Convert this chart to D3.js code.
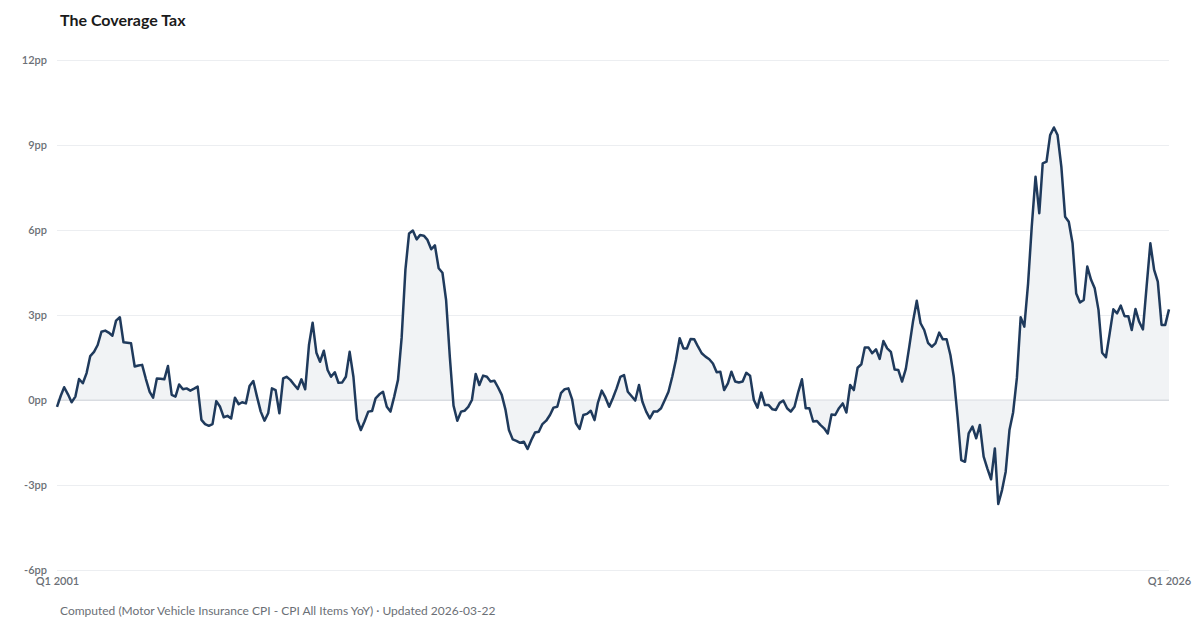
<!DOCTYPE html>
<html>
<head>
<meta charset="utf-8">
<script src="https://cdn.jsdelivr.net/npm/d3@7"></script>
<style>
  body { margin: 0; background: #fff; font-family: Lato, "Open Sans", sans-serif; }
  .tick text { fill: #6b6f76; font-weight: 600; }
</style>
</head>
<body>
<div id="chart"></div>
<script>
// monthly spread, percentage points (insurance CPI YoY minus headline CPI YoY), Jan 2001 on
const y2001 = [-0.24, 0.15, 0.45, 0.2, -0.08, 0.12, 0.74, 0.59, 0.95, 1.55, 1.7, 1.94];
const y2002 = [2.41, 2.45, 2.38, 2.27, 2.8, 2.92, 2.04, 2.02, 2.0, 1.18, 1.22, 1.24];
const y2003 = [0.74, 0.29, 0.08, 0.76, 0.75, 0.73, 1.2, 0.18, 0.12, 0.55, 0.38, 0.41];
const y2004 = [0.33, 0.4, 0.47, -0.7, -0.85, -0.91, -0.85, -0.04, -0.24, -0.61, -0.56, -0.65];
const y2005 = [0.08, -0.15, -0.08, -0.12, 0.49, 0.67, 0.12, -0.41, -0.73, -0.47, 0.41, 0.35];
const y2006 = [-0.47, 0.76, 0.82, 0.71, 0.55, 0.39, 0.73, 0.38, 1.94, 2.73, 1.67, 1.35];
const y2007 = [1.74, 1.06, 0.82, 0.98, 0.61, 0.62, 0.82, 1.7, 0.82, -0.68, -1.06, -0.76];
const y2008 = [-0.41, -0.39, 0.06, 0.2, 0.29, -0.24, -0.41, 0.12, 0.71, 2.2, 4.6, 5.88];
const y2009 = [5.98, 5.67, 5.82, 5.8, 5.65, 5.32, 5.46, 4.65, 4.49, 3.53, 1.5, -0.2];
const y2010 = [-0.73, -0.41, -0.38, -0.24, 0.0, 0.92, 0.53, 0.86, 0.82, 0.65, 0.68, 0.45];
const y2011 = [0.18, -0.35, -1.06, -1.39, -1.44, -1.51, -1.47, -1.73, -1.41, -1.15, -1.12, -0.85];
const y2012 = [-0.73, -0.53, -0.27, -0.24, 0.24, 0.38, 0.41, 0.02, -0.82, -1.02, -0.53, -0.49];
const y2013 = [-0.38, -0.71, -0.09, 0.33, 0.09, -0.24, 0.06, 0.41, 0.82, 0.88, 0.29, 0.14];
const y2014 = [-0.02, 0.53, -0.06, -0.41, -0.65, -0.41, -0.41, -0.29, 0.0, 0.29, 0.82, 1.41];
const y2015 = [2.18, 1.82, 1.82, 2.15, 2.14, 1.88, 1.65, 1.53, 1.44, 1.29, 0.98, 1.0];
const y2016 = [0.35, 0.59, 1.0, 0.65, 0.62, 0.65, 0.96, 0.86, 0.0, -0.27, 0.26, -0.18];
const y2017 = [-0.18, -0.33, -0.35, -0.1, -0.02, -0.29, -0.41, -0.24, 0.29, 0.73, -0.29, -0.29];
const y2018 = [-0.76, -0.74, -0.88, -1.0, -1.18, -0.51, -0.53, -0.29, -0.12, -0.44, 0.53, 0.35];
const y2019 = [1.14, 1.26, 1.85, 1.85, 1.65, 1.79, 1.45, 2.08, 1.82, 1.7, 1.08, 1.06];
const y2020 = [0.65, 1.1, 1.9, 2.8, 3.5, 2.71, 2.47, 2.02, 1.88, 2.0, 2.38, 2.14];
const y2021 = [2.14, 1.59, 0.82, -0.6, -2.12, -2.18, -1.18, -0.94, -1.35, -0.88, -2.0, -2.41];
const y2022 = [-2.8, -1.71, -3.67, -3.18, -2.53, -1.06, -0.44, 0.78, 2.92, 2.59, 4.12, 6.12];
const y2023 = [7.88, 6.59, 8.35, 8.41, 9.35, 9.62, 9.35, 8.24, 6.47, 6.29, 5.53, 3.76];
const y2024 = [3.44, 3.53, 4.71, 4.24, 3.94, 3.18, 1.67, 1.51, 2.35, 3.2, 3.06, 3.33];
const y2025 = [2.96, 2.96, 2.47, 3.21, 2.76, 2.49, 4.0, 5.53, 4.59, 4.18, 2.65, 2.65];
const y2026 = [3.2];

const yTicks = [-6, -3, 0, 3, 6, 9, 12];
const xTickLabels = ["Q1 2001", "Q1 2026"];
const xTickDates = [new Date(2001, 0, 1), new Date(2026, 0, 1)];

const title = "The Coverage Tax";
const footnote = "Computed (Motor Vehicle Insurance CPI - CPI All Items YoY) \u00b7 Updated 2026-03-22";

const spread = [].concat(y2001, y2002, y2003, y2004, y2005, y2006, y2007, y2008, y2009,
  y2010, y2011, y2012, y2013, y2014, y2015, y2016, y2017, y2018, y2019, y2020,
  y2021, y2022, y2023, y2024, y2025, y2026);
const data = spread.map((v, i) => ({ date: d3.timeMonth.offset(new Date(2001, 0, 1), i), value: v }));

const width = 1200, height = 630;
const margin = { LEFT: 57, RIGHT: 31, TOP: 60, BOTTOM: 60 };

const svg = d3.select("#chart").append("svg")
  .attr("width", width)
  .attr("height", height);

svg.append("text")
  .attr("x", 60)
  .attr("y", 26)
  .attr("font-size", "16px")
  .attr("font-weight", 700)
  .attr("fill", "#1a1a1a")
  .text(title);

svg.append("text")
  .attr("x", 60)
  .attr("y", 615)
  .attr("font-size", "12px")
  .attr("fill", "#6b6f76")
  .text(footnote);

// scales
const x = d3.scaleTime()
  .domain([xTickDates[0], xTickDates[1]])
  .range([margin.LEFT, width - margin.RIGHT]);
const y = d3.scaleLinear()
  .domain([-6, 12])
  .range([height - margin.BOTTOM, margin.TOP]);

// grid + y labels
const yAxis = svg.append("g")
  .attr("transform", `translate(${margin.LEFT}, 0)`)
  .call(d3.axisLeft(y)
    .tickValues(yTicks)
    .tickSize(-(width - margin.LEFT - margin.RIGHT))
    .tickPadding(10)
    .tickFormat(d => d + "pp"));
yAxis.select(".domain").remove();
yAxis.selectAll(".tick line")
  .attr("stroke", d => d === 0 ? "#d9dce1" : "#eceef1");
yAxis.selectAll(".tick text")
  .attr("font-size", "11px")
  .attr("font-family", "Lato, sans-serif");

// x labels
const xAxis = svg.append("g")
  .attr("transform", `translate(0, ${y(-6)})`)
  .call(d3.axisBottom(x)
    .tickValues(xTickDates)
    .tickSize(0)
    .tickPadding(7)
    .tickFormat((d, i) => xTickLabels[i]));
xAxis.select(".domain").remove();
xAxis.selectAll(".tick text")
  .attr("font-size", "11px")
  .attr("font-family", "Lato, sans-serif");

// shaded area to zero
const area = d3.area()
  .x(d => x(d.date))
  .y0(y(0))
  .y1(d => y(d.value));
svg.append("path")
  .datum(data)
  .attr("fill", "#f1f3f5")
  .attr("d", area);

// redraw zero line above the fill
svg.append("line")
  .attr("x1", margin.LEFT)
  .attr("x2", width - margin.RIGHT)
  .attr("y1", y(0))
  .attr("y2", y(0))
  .attr("stroke", "#d9dce1");

const line = d3.line()
  .x(d => x(d.date))
  .y(d => y(d.value));
svg.append("path")
  .datum(data)
  .attr("fill", "none")
  .attr("stroke", "#1f3a5c")
  .attr("stroke-width", 2.5)
  .attr("stroke-linejoin", "round")
  .attr("d", line);
</script>
</body>
</html>
